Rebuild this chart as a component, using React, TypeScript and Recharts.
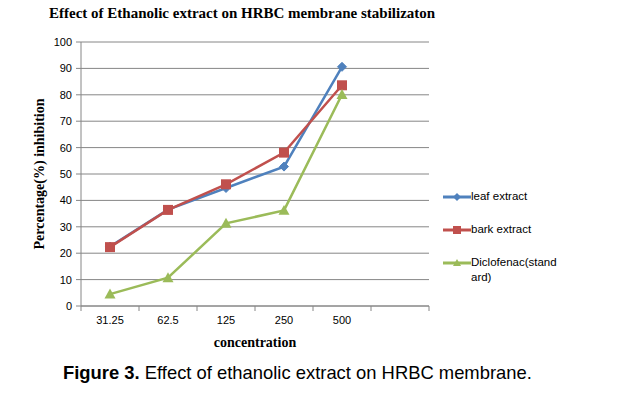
import React from "react";
import { LineChart, Line, XAxis, YAxis, CartesianGrid, Legend } from "recharts";

const categories = ["31.25", "62.5", "125", "250", "500"];
const leafExtract = [22.5, 36.5, 44.7, 52.8, 90.6];
const barkExtract = [22.3, 36.4, 46.1, 58.1, 83.6];
const diclofenac = [4.5, 10.7, 31.3, 36.2, 80.1];
const yTicks = [0, 10, 20, 30, 40, 50, 60, 70, 80, 90, 100];
const slotCount = 6;

const BLUE = "#4F81BD";
const RED = "#C0504D";
const GREEN = "#9BBB59";
const GRID = "#868686";

const data = categories.map((c, i) => ({
  x: i + 0.5,
  label: c,
  leaf: leafExtract[i],
  bark: barkExtract[i],
  diclo: diclofenac[i],
}));

const xTicks: number[] = [];
for (let i = 0; i <= slotCount; i++) {
  xTicks.push(i);
  if (i < categories.length) xTicks.push(i + 0.5);
}

const TICK_SIZE = 8;
const TICK_MARGIN = 2;

const XTick = (props: any) => {
  const { x, y, payload } = props;
  const v = payload.value;
  const axisY = y - TICK_SIZE - TICK_MARGIN;
  if (Number.isInteger(v)) {
    return (
      <line x1={x} x2={x} y1={axisY} y2={axisY + 5} stroke={GRID} strokeWidth={1} />
    );
  }
  const idx = Math.floor(v);
  return (
    <text x={x} y={y} dy="0.71em" textAnchor="middle" fontSize={11} fill="#000" fontFamily="Liberation Sans, Arial, sans-serif">
      {categories[idx]}
    </text>
  );
};

const Diamond = (props: any) => {
  const { cx, cy } = props;
  if (cx == null || cy == null) return null;
  const r = 4.5;
  return <path d={`M${cx},${cy - r}L${cx + r},${cy}L${cx},${cy + r}L${cx - r},${cy}Z`} fill={BLUE} stroke={BLUE} />;
};
const Square = (props: any) => {
  const { cx, cy } = props;
  if (cx == null || cy == null) return null;
  const s = 5;
  return <rect x={cx - s} y={cy - s} width={2 * s} height={2 * s} fill={RED} />;
};
const Triangle = (props: any) => {
  const { cx, cy } = props;
  if (cx == null || cy == null) return null;
  const r = 5.5;
  return <path d={`M${cx},${cy - r}L${cx + r},${cy + r * 0.8}L${cx - r},${cy + r * 0.8}Z`} fill={GREEN} />;
};

const legendItems = [
  { name: ["leaf extract"], color: BLUE, kind: "diamond" },
  { name: ["bark extract"], color: RED, kind: "square" },
  { name: ["Diclofenac(stand", "ard)"], color: GREEN, kind: "triangle" },
];

const LegendContent = () => (
  <div style={{ fontFamily: "Liberation Sans, Arial, sans-serif", fontSize: 11.5, color: "#000" }}>
    {legendItems.map((it, i) => (
      <div key={i} style={{ display: "flex", alignItems: "flex-start", height: 33 }}>
        <svg width={28} height={14} style={{ flex: "none" }}>
          <line x1={0} x2={28} y1={7} y2={7} stroke={it.color} strokeWidth={3} />
          {it.kind === "diamond" && <path d="M14,3L18,7L14,11L10,7Z" fill={it.color} />}
          {it.kind === "square" && <rect x={10} y={3} width={8} height={8} fill={it.color} />}
          {it.kind === "triangle" && <path d="M14,3L18,10L10,10Z" fill={it.color} />}
        </svg>
        <div style={{ lineHeight: "15px", marginTop: -1 }}>
          {it.name.map((n, j) => (
            <div key={j}>{n}</div>
          ))}
        </div>
      </div>
    ))}
  </div>
);

export default function App() {
  return (
    <div style={{ position: "absolute", left: 0, top: 0, width: 621, height: 393, background: "#fff" }}>
      <div
        style={{
          position: "absolute",
          left: 49,
          top: 5,
          fontFamily: "Liberation Serif, Times New Roman, serif",
          fontWeight: "bold",
          fontSize: 15,
          whiteSpace: "nowrap",
          color: "#000",
        }}
      >
        Effect of Ethanolic extract on HRBC membrane stabilizaton
      </div>
      <LineChart
        width={621}
        height={393}
        data={data}
        margin={{ top: 42, right: 192, bottom: 47, left: 41 }}
      >
        <CartesianGrid vertical={false} stroke={GRID} strokeWidth={1} />
        <XAxis
          dataKey="x"
          type="number"
          domain={[0, slotCount]}
          ticks={xTicks}
          interval={0}
          tickLine={false}
          tickSize={TICK_SIZE}
          tickMargin={TICK_MARGIN}
          tick={<XTick />}
          stroke={GRID}
          height={40}
          label={{
            content: (p: any) => {
              const vb = p.viewBox;
              return (
                <text
                  x={vb.x + vb.width / 2}
                  y={vb.y + 41}
                  textAnchor="middle"
                  fontFamily="Liberation Serif, Times New Roman, serif"
                  fontWeight="bold"
                  fontSize={14}
                  fill="#000"
                >
                  concentration
                </text>
              );
            },
          }}
        />
        <YAxis
          type="number"
          domain={[0, 100]}
          ticks={yTicks}
          interval={0}
          width={40}
          tickSize={5}
          tickMargin={4}
          stroke={GRID}
          tick={{ fill: "#000", fontSize: 11, fontFamily: "Liberation Sans, Arial, sans-serif" }}
          label={{
            content: (p: any) => {
              const vb = p.viewBox;
              const cx = vb.x - 2;
              const cy = vb.y + vb.height / 2;
              return (
                <text
                  x={cx}
                  y={cy}
                  transform={`rotate(-90, ${cx}, ${cy})`}
                  textAnchor="middle"
                  dominantBaseline="central"
                  fontFamily="Liberation Serif, Times New Roman, serif"
                  fontWeight="bold"
                  fontSize={14}
                  fill="#000"
                >
                  Percentage(%) inhibition
                </text>
              );
            },
          }}
        />
        <Legend
          layout="vertical"
          align="center"
          verticalAlign="middle"
          content={<LegendContent />}
          wrapperStyle={{ position: "absolute", left: 443, top: 190, width: 175 }}
        />
        <Line
          dataKey="leaf"
          name="leaf extract"
          stroke={BLUE}
          strokeWidth={2.5}
          dot={<Diamond />}
          activeDot={false}
          isAnimationActive={false}
        />
        <Line
          dataKey="bark"
          name="bark extract"
          stroke={RED}
          strokeWidth={2.5}
          dot={<Square />}
          activeDot={false}
          isAnimationActive={false}
        />
        <Line
          dataKey="diclo"
          name="Diclofenac(standard)"
          stroke={GREEN}
          strokeWidth={2.5}
          dot={<Triangle />}
          activeDot={false}
          isAnimationActive={false}
        />
      </LineChart>
      <div
        style={{
          position: "absolute",
          left: 63,
          top: 362,
          fontFamily: "Liberation Sans, Arial, sans-serif",
          fontSize: 18.4,
          whiteSpace: "nowrap",
          color: "#000",
        }}
      >
        <b>Figure 3.</b> Effect of ethanolic extract on HRBC membrane.
      </div>
    </div>
  );
}
